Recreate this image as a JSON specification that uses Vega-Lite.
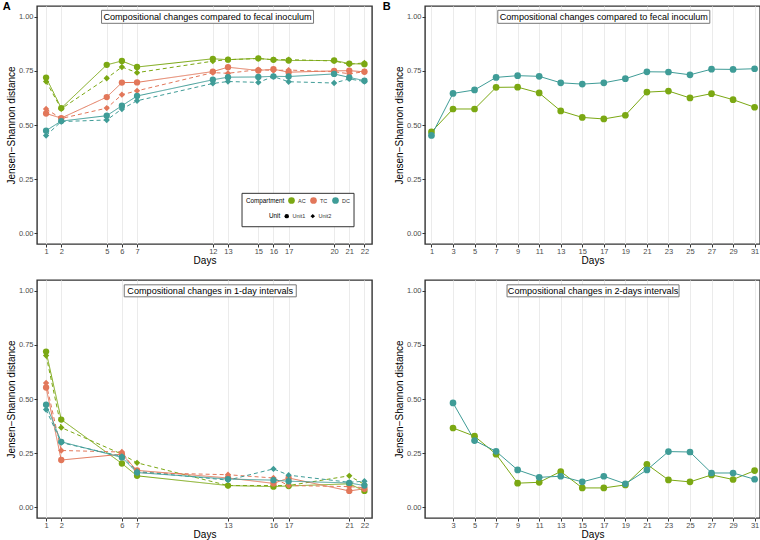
{
  "$schema": "https://vega.github.io/schema/vega-lite/v6.json",
  "background": "white",
  "padding": {"left": 2, "top": 0, "right": 2, "bottom": 1},
  "config": {
    "font": "Liberation Sans",
    "view": {"stroke": "#333333", "strokeWidth": 1.4},
    "axis": {"domain": false, "tickColor": "#333333", "tickSize": 3, "labelColor": "#4d4d4d", "labelFontSize": 7.5, "labelFont": "Liberation Sans", "titleFont": "Liberation Sans", "titleFontSize": 10, "titleFontWeight": "normal", "titleColor": "black", "gridColor": "#ebebeb", "gridWidth": 1, "labelPadding": 1},
    "axisY": {"grid": false, "titlePadding": 2},
    "axisX": {"grid": true, "titlePadding": 0, "labelPadding": 0.5, "labelFlush": false, "labelOverlap": false},
    "legend": {"padding": 0}
  },
  "datasets": {
    "fecalA": [
      {"Day": 1, "JSD": 0.719, "Compartment": "AC", "Unit": "Unit1"},
      {"Day": 2, "JSD": 0.578, "Compartment": "AC", "Unit": "Unit1"},
      {"Day": 5, "JSD": 0.778, "Compartment": "AC", "Unit": "Unit1"},
      {"Day": 6, "JSD": 0.796, "Compartment": "AC", "Unit": "Unit1"},
      {"Day": 7, "JSD": 0.768, "Compartment": "AC", "Unit": "Unit1"},
      {"Day": 12, "JSD": 0.806, "Compartment": "AC", "Unit": "Unit1"},
      {"Day": 13, "JSD": 0.802, "Compartment": "AC", "Unit": "Unit1"},
      {"Day": 15, "JSD": 0.808, "Compartment": "AC", "Unit": "Unit1"},
      {"Day": 16, "JSD": 0.801, "Compartment": "AC", "Unit": "Unit1"},
      {"Day": 17, "JSD": 0.798, "Compartment": "AC", "Unit": "Unit1"},
      {"Day": 20, "JSD": 0.798, "Compartment": "AC", "Unit": "Unit1"},
      {"Day": 21, "JSD": 0.784, "Compartment": "AC", "Unit": "Unit1"},
      {"Day": 22, "JSD": 0.781, "Compartment": "AC", "Unit": "Unit1"},
      {"Day": 1, "JSD": 0.701, "Compartment": "AC", "Unit": "Unit2"},
      {"Day": 2, "JSD": 0.575, "Compartment": "AC", "Unit": "Unit2"},
      {"Day": 5, "JSD": 0.716, "Compartment": "AC", "Unit": "Unit2"},
      {"Day": 6, "JSD": 0.768, "Compartment": "AC", "Unit": "Unit2"},
      {"Day": 7, "JSD": 0.742, "Compartment": "AC", "Unit": "Unit2"},
      {"Day": 12, "JSD": 0.795, "Compartment": "AC", "Unit": "Unit2"},
      {"Day": 13, "JSD": 0.802, "Compartment": "AC", "Unit": "Unit2"},
      {"Day": 15, "JSD": 0.807, "Compartment": "AC", "Unit": "Unit2"},
      {"Day": 16, "JSD": 0.802, "Compartment": "AC", "Unit": "Unit2"},
      {"Day": 17, "JSD": 0.802, "Compartment": "AC", "Unit": "Unit2"},
      {"Day": 20, "JSD": 0.796, "Compartment": "AC", "Unit": "Unit2"},
      {"Day": 21, "JSD": 0.781, "Compartment": "AC", "Unit": "Unit2"},
      {"Day": 22, "JSD": 0.787, "Compartment": "AC", "Unit": "Unit2"},
      {"Day": 1, "JSD": 0.553, "Compartment": "TC", "Unit": "Unit1"},
      {"Day": 2, "JSD": 0.532, "Compartment": "TC", "Unit": "Unit1"},
      {"Day": 5, "JSD": 0.629, "Compartment": "TC", "Unit": "Unit1"},
      {"Day": 6, "JSD": 0.696, "Compartment": "TC", "Unit": "Unit1"},
      {"Day": 7, "JSD": 0.697, "Compartment": "TC", "Unit": "Unit1"},
      {"Day": 12, "JSD": 0.747, "Compartment": "TC", "Unit": "Unit1"},
      {"Day": 13, "JSD": 0.767, "Compartment": "TC", "Unit": "Unit1"},
      {"Day": 15, "JSD": 0.752, "Compartment": "TC", "Unit": "Unit1"},
      {"Day": 16, "JSD": 0.758, "Compartment": "TC", "Unit": "Unit1"},
      {"Day": 17, "JSD": 0.744, "Compartment": "TC", "Unit": "Unit1"},
      {"Day": 20, "JSD": 0.750, "Compartment": "TC", "Unit": "Unit1"},
      {"Day": 21, "JSD": 0.751, "Compartment": "TC", "Unit": "Unit1"},
      {"Day": 22, "JSD": 0.746, "Compartment": "TC", "Unit": "Unit1"},
      {"Day": 1, "JSD": 0.574, "Compartment": "TC", "Unit": "Unit2"},
      {"Day": 2, "JSD": 0.530, "Compartment": "TC", "Unit": "Unit2"},
      {"Day": 5, "JSD": 0.578, "Compartment": "TC", "Unit": "Unit2"},
      {"Day": 6, "JSD": 0.640, "Compartment": "TC", "Unit": "Unit2"},
      {"Day": 7, "JSD": 0.658, "Compartment": "TC", "Unit": "Unit2"},
      {"Day": 12, "JSD": 0.742, "Compartment": "TC", "Unit": "Unit2"},
      {"Day": 13, "JSD": 0.739, "Compartment": "TC", "Unit": "Unit2"},
      {"Day": 15, "JSD": 0.756, "Compartment": "TC", "Unit": "Unit2"},
      {"Day": 16, "JSD": 0.752, "Compartment": "TC", "Unit": "Unit2"},
      {"Day": 17, "JSD": 0.754, "Compartment": "TC", "Unit": "Unit2"},
      {"Day": 20, "JSD": 0.746, "Compartment": "TC", "Unit": "Unit2"},
      {"Day": 21, "JSD": 0.737, "Compartment": "TC", "Unit": "Unit2"},
      {"Day": 22, "JSD": 0.746, "Compartment": "TC", "Unit": "Unit2"},
      {"Day": 1, "JSD": 0.474, "Compartment": "DC", "Unit": "Unit1"},
      {"Day": 2, "JSD": 0.518, "Compartment": "DC", "Unit": "Unit1"},
      {"Day": 5, "JSD": 0.543, "Compartment": "DC", "Unit": "Unit1"},
      {"Day": 6, "JSD": 0.589, "Compartment": "DC", "Unit": "Unit1"},
      {"Day": 7, "JSD": 0.634, "Compartment": "DC", "Unit": "Unit1"},
      {"Day": 12, "JSD": 0.709, "Compartment": "DC", "Unit": "Unit1"},
      {"Day": 13, "JSD": 0.721, "Compartment": "DC", "Unit": "Unit1"},
      {"Day": 15, "JSD": 0.722, "Compartment": "DC", "Unit": "Unit1"},
      {"Day": 16, "JSD": 0.725, "Compartment": "DC", "Unit": "Unit1"},
      {"Day": 17, "JSD": 0.724, "Compartment": "DC", "Unit": "Unit1"},
      {"Day": 20, "JSD": 0.736, "Compartment": "DC", "Unit": "Unit1"},
      {"Day": 21, "JSD": 0.720, "Compartment": "DC", "Unit": "Unit1"},
      {"Day": 22, "JSD": 0.705, "Compartment": "DC", "Unit": "Unit1"},
      {"Day": 1, "JSD": 0.451, "Compartment": "DC", "Unit": "Unit2"},
      {"Day": 2, "JSD": 0.516, "Compartment": "DC", "Unit": "Unit2"},
      {"Day": 5, "JSD": 0.523, "Compartment": "DC", "Unit": "Unit2"},
      {"Day": 6, "JSD": 0.574, "Compartment": "DC", "Unit": "Unit2"},
      {"Day": 7, "JSD": 0.612, "Compartment": "DC", "Unit": "Unit2"},
      {"Day": 12, "JSD": 0.692, "Compartment": "DC", "Unit": "Unit2"},
      {"Day": 13, "JSD": 0.701, "Compartment": "DC", "Unit": "Unit2"},
      {"Day": 15, "JSD": 0.697, "Compartment": "DC", "Unit": "Unit2"},
      {"Day": 16, "JSD": 0.724, "Compartment": "DC", "Unit": "Unit2"},
      {"Day": 17, "JSD": 0.700, "Compartment": "DC", "Unit": "Unit2"},
      {"Day": 20, "JSD": 0.694, "Compartment": "DC", "Unit": "Unit2"},
      {"Day": 21, "JSD": 0.713, "Compartment": "DC", "Unit": "Unit2"},
      {"Day": 22, "JSD": 0.701, "Compartment": "DC", "Unit": "Unit2"}
    ],
    "intervalA": [
      {"Day": 1, "JSD": 0.719, "Compartment": "AC", "Unit": "Unit1"},
      {"Day": 2, "JSD": 0.405, "Compartment": "AC", "Unit": "Unit1"},
      {"Day": 6, "JSD": 0.202, "Compartment": "AC", "Unit": "Unit1"},
      {"Day": 7, "JSD": 0.145, "Compartment": "AC", "Unit": "Unit1"},
      {"Day": 13, "JSD": 0.100, "Compartment": "AC", "Unit": "Unit1"},
      {"Day": 16, "JSD": 0.095, "Compartment": "AC", "Unit": "Unit1"},
      {"Day": 17, "JSD": 0.098, "Compartment": "AC", "Unit": "Unit1"},
      {"Day": 21, "JSD": 0.108, "Compartment": "AC", "Unit": "Unit1"},
      {"Day": 22, "JSD": 0.075, "Compartment": "AC", "Unit": "Unit1"},
      {"Day": 1, "JSD": 0.701, "Compartment": "AC", "Unit": "Unit2"},
      {"Day": 2, "JSD": 0.368, "Compartment": "AC", "Unit": "Unit2"},
      {"Day": 6, "JSD": 0.245, "Compartment": "AC", "Unit": "Unit2"},
      {"Day": 7, "JSD": 0.205, "Compartment": "AC", "Unit": "Unit2"},
      {"Day": 13, "JSD": 0.100, "Compartment": "AC", "Unit": "Unit2"},
      {"Day": 16, "JSD": 0.100, "Compartment": "AC", "Unit": "Unit2"},
      {"Day": 17, "JSD": 0.100, "Compartment": "AC", "Unit": "Unit2"},
      {"Day": 21, "JSD": 0.145, "Compartment": "AC", "Unit": "Unit2"},
      {"Day": 22, "JSD": 0.105, "Compartment": "AC", "Unit": "Unit2"},
      {"Day": 1, "JSD": 0.553, "Compartment": "TC", "Unit": "Unit1"},
      {"Day": 2, "JSD": 0.218, "Compartment": "TC", "Unit": "Unit1"},
      {"Day": 6, "JSD": 0.245, "Compartment": "TC", "Unit": "Unit1"},
      {"Day": 7, "JSD": 0.170, "Compartment": "TC", "Unit": "Unit1"},
      {"Day": 13, "JSD": 0.135, "Compartment": "TC", "Unit": "Unit1"},
      {"Day": 16, "JSD": 0.110, "Compartment": "TC", "Unit": "Unit1"},
      {"Day": 17, "JSD": 0.135, "Compartment": "TC", "Unit": "Unit1"},
      {"Day": 21, "JSD": 0.075, "Compartment": "TC", "Unit": "Unit1"},
      {"Day": 22, "JSD": 0.085, "Compartment": "TC", "Unit": "Unit1"},
      {"Day": 1, "JSD": 0.574, "Compartment": "TC", "Unit": "Unit2"},
      {"Day": 2, "JSD": 0.262, "Compartment": "TC", "Unit": "Unit2"},
      {"Day": 6, "JSD": 0.255, "Compartment": "TC", "Unit": "Unit2"},
      {"Day": 7, "JSD": 0.160, "Compartment": "TC", "Unit": "Unit2"},
      {"Day": 13, "JSD": 0.150, "Compartment": "TC", "Unit": "Unit2"},
      {"Day": 16, "JSD": 0.135, "Compartment": "TC", "Unit": "Unit2"},
      {"Day": 17, "JSD": 0.100, "Compartment": "TC", "Unit": "Unit2"},
      {"Day": 21, "JSD": 0.095, "Compartment": "TC", "Unit": "Unit2"},
      {"Day": 22, "JSD": 0.090, "Compartment": "TC", "Unit": "Unit2"},
      {"Day": 1, "JSD": 0.474, "Compartment": "DC", "Unit": "Unit1"},
      {"Day": 2, "JSD": 0.302, "Compartment": "DC", "Unit": "Unit1"},
      {"Day": 6, "JSD": 0.230, "Compartment": "DC", "Unit": "Unit1"},
      {"Day": 7, "JSD": 0.160, "Compartment": "DC", "Unit": "Unit1"},
      {"Day": 13, "JSD": 0.130, "Compartment": "DC", "Unit": "Unit1"},
      {"Day": 16, "JSD": 0.125, "Compartment": "DC", "Unit": "Unit1"},
      {"Day": 17, "JSD": 0.120, "Compartment": "DC", "Unit": "Unit1"},
      {"Day": 21, "JSD": 0.112, "Compartment": "DC", "Unit": "Unit1"},
      {"Day": 22, "JSD": 0.100, "Compartment": "DC", "Unit": "Unit1"},
      {"Day": 1, "JSD": 0.451, "Compartment": "DC", "Unit": "Unit2"},
      {"Day": 2, "JSD": 0.298, "Compartment": "DC", "Unit": "Unit2"},
      {"Day": 6, "JSD": 0.235, "Compartment": "DC", "Unit": "Unit2"},
      {"Day": 7, "JSD": 0.165, "Compartment": "DC", "Unit": "Unit2"},
      {"Day": 13, "JSD": 0.125, "Compartment": "DC", "Unit": "Unit2"},
      {"Day": 16, "JSD": 0.177, "Compartment": "DC", "Unit": "Unit2"},
      {"Day": 17, "JSD": 0.148, "Compartment": "DC", "Unit": "Unit2"},
      {"Day": 21, "JSD": 0.115, "Compartment": "DC", "Unit": "Unit2"},
      {"Day": 22, "JSD": 0.120, "Compartment": "DC", "Unit": "Unit2"}
    ],
    "fecalB": [
      {"Day": 1, "JSD": 0.468, "Compartment": "AC"},
      {"Day": 3, "JSD": 0.574, "Compartment": "AC"},
      {"Day": 5, "JSD": 0.574, "Compartment": "AC"},
      {"Day": 7, "JSD": 0.674, "Compartment": "AC"},
      {"Day": 9, "JSD": 0.675, "Compartment": "AC"},
      {"Day": 11, "JSD": 0.648, "Compartment": "AC"},
      {"Day": 13, "JSD": 0.565, "Compartment": "AC"},
      {"Day": 15, "JSD": 0.535, "Compartment": "AC"},
      {"Day": 17, "JSD": 0.528, "Compartment": "AC"},
      {"Day": 19, "JSD": 0.545, "Compartment": "AC"},
      {"Day": 21, "JSD": 0.652, "Compartment": "AC"},
      {"Day": 23, "JSD": 0.657, "Compartment": "AC"},
      {"Day": 25, "JSD": 0.625, "Compartment": "AC"},
      {"Day": 27, "JSD": 0.645, "Compartment": "AC"},
      {"Day": 29, "JSD": 0.617, "Compartment": "AC"},
      {"Day": 31, "JSD": 0.582, "Compartment": "AC"},
      {"Day": 1, "JSD": 0.452, "Compartment": "DC"},
      {"Day": 3, "JSD": 0.646, "Compartment": "DC"},
      {"Day": 5, "JSD": 0.662, "Compartment": "DC"},
      {"Day": 7, "JSD": 0.720, "Compartment": "DC"},
      {"Day": 9, "JSD": 0.728, "Compartment": "DC"},
      {"Day": 11, "JSD": 0.725, "Compartment": "DC"},
      {"Day": 13, "JSD": 0.695, "Compartment": "DC"},
      {"Day": 15, "JSD": 0.689, "Compartment": "DC"},
      {"Day": 17, "JSD": 0.695, "Compartment": "DC"},
      {"Day": 19, "JSD": 0.714, "Compartment": "DC"},
      {"Day": 21, "JSD": 0.746, "Compartment": "DC"},
      {"Day": 23, "JSD": 0.745, "Compartment": "DC"},
      {"Day": 25, "JSD": 0.732, "Compartment": "DC"},
      {"Day": 27, "JSD": 0.758, "Compartment": "DC"},
      {"Day": 29, "JSD": 0.757, "Compartment": "DC"},
      {"Day": 31, "JSD": 0.760, "Compartment": "DC"}
    ],
    "intervalB": [
      {"Day": 3, "JSD": 0.366, "Compartment": "AC"},
      {"Day": 5, "JSD": 0.328, "Compartment": "AC"},
      {"Day": 7, "JSD": 0.245, "Compartment": "AC"},
      {"Day": 9, "JSD": 0.111, "Compartment": "AC"},
      {"Day": 11, "JSD": 0.115, "Compartment": "AC"},
      {"Day": 13, "JSD": 0.165, "Compartment": "AC"},
      {"Day": 15, "JSD": 0.089, "Compartment": "AC"},
      {"Day": 17, "JSD": 0.089, "Compartment": "AC"},
      {"Day": 19, "JSD": 0.103, "Compartment": "AC"},
      {"Day": 21, "JSD": 0.198, "Compartment": "AC"},
      {"Day": 23, "JSD": 0.126, "Compartment": "AC"},
      {"Day": 25, "JSD": 0.117, "Compartment": "AC"},
      {"Day": 27, "JSD": 0.149, "Compartment": "AC"},
      {"Day": 29, "JSD": 0.128, "Compartment": "AC"},
      {"Day": 31, "JSD": 0.169, "Compartment": "AC"},
      {"Day": 3, "JSD": 0.482, "Compartment": "DC"},
      {"Day": 5, "JSD": 0.308, "Compartment": "DC"},
      {"Day": 7, "JSD": 0.258, "Compartment": "DC"},
      {"Day": 9, "JSD": 0.172, "Compartment": "DC"},
      {"Day": 11, "JSD": 0.138, "Compartment": "DC"},
      {"Day": 13, "JSD": 0.143, "Compartment": "DC"},
      {"Day": 15, "JSD": 0.117, "Compartment": "DC"},
      {"Day": 17, "JSD": 0.143, "Compartment": "DC"},
      {"Day": 19, "JSD": 0.108, "Compartment": "DC"},
      {"Day": 21, "JSD": 0.172, "Compartment": "DC"},
      {"Day": 23, "JSD": 0.257, "Compartment": "DC"},
      {"Day": 25, "JSD": 0.255, "Compartment": "DC"},
      {"Day": 27, "JSD": 0.158, "Compartment": "DC"},
      {"Day": 29, "JSD": 0.158, "Compartment": "DC"},
      {"Day": 31, "JSD": 0.129, "Compartment": "DC"}
    ]
  },
  "columns": 2,
  "spacing": {"row": 36, "column": 53},
  "bounds": "flush",
  "resolve": {"scale": {"x": "independent", "y": "independent"}, "legend": {"color": "independent", "shape": "independent"}},
  "concat": [
    {
      "width": 335, "height": 238,
      "encoding": {
        "x": {"field": "Day", "type": "quantitative", "scale": {"domain": [0.4, 22.5], "nice": false, "zero": false}, "axis": {"values": [1, 2, 5, 6, 7, 12, 13, 15, 16, 17, 20, 21, 22], "format": "d", "title": "Days"}},
        "y": {"field": "JSD", "type": "quantitative", "scale": {"domain": [-0.05, 1.05], "nice": false, "zero": false}, "axis": {"values": [0, 0.25, 0.5, 0.75, 1], "format": ".2f", "title": "Jensen−Shannon distance"}}
      },
      "layer": [
        {
          "data": {"values": [{"Day": -1.6, "JSD": 1.0445, "label": "A"}]},
          "mark": {"type": "text", "fontSize": 11, "fontWeight": "bold", "color": "black", "baseline": "middle", "align": "center"},
          "encoding": {"text": {"field": "label"}}
        },
        {
          "data": {"name": "fecalA"},
          "mark": {"type": "line", "strokeWidth": 1},
          "encoding": {
            "color": {"field": "Compartment", "type": "nominal", "scale": {"domain": ["AC", "TC", "DC"], "range": ["#7BA813", "#E2775A", "#3F9C97"]},
              "legend": {"title": "Compartment", "orient": "none", "direction": "horizontal", "titleOrient": "left", "legendX": 209, "legendY": 191, "symbolType": "circle", "symbolSize": 45, "symbolStrokeWidth": 0, "labelFontSize": 5.5, "titleFontSize": 6.3, "titleFontWeight": "normal", "titleColor": "black", "labelColor": "#333333", "titlePadding": 3, "labelOffset": 3, "columnPadding": 4, "padding": 0}},
            "strokeDash": {"field": "Unit", "type": "nominal", "scale": {"domain": ["Unit1", "Unit2"], "range": [[1, 0], [4, 3]]}, "legend": null}
          }
        },
        {
          "data": {"name": "fecalA"},
          "mark": {"type": "point", "filled": true, "size": 40, "opacity": 1},
          "encoding": {
            "color": {"field": "Compartment", "type": "nominal", "scale": {"domain": ["AC", "TC", "DC"], "range": ["#7BA813", "#E2775A", "#3F9C97"]},
              "legend": {"title": "Compartment", "orient": "none", "direction": "horizontal", "titleOrient": "left", "legendX": 209, "legendY": 191, "symbolType": "circle", "symbolSize": 45, "symbolStrokeWidth": 0, "labelFontSize": 5.5, "titleFontSize": 6.3, "titleFontWeight": "normal", "titleColor": "black", "labelColor": "#333333", "titlePadding": 3, "labelOffset": 3, "columnPadding": 4, "padding": 0}},
            "shape": {"field": "Unit", "type": "nominal", "scale": {"domain": ["Unit1", "Unit2"], "range": ["circle", "diamond"]},
              "legend": {"title": "Unit", "orient": "none", "direction": "horizontal", "titleOrient": "left", "legendX": 232, "legendY": 207, "symbolSize": 20, "symbolFillColor": "black", "symbolStrokeColor": "black", "symbolStrokeWidth": 0, "labelFontSize": 5.5, "titleFontSize": 6.3, "titleFontWeight": "normal", "titleColor": "black", "labelColor": "#333333", "titlePadding": 3, "labelOffset": 3, "columnPadding": 4, "padding": 0}}
          }
        },
        {
          "data": {"values": [{"Day": 17.62, "JSD": 0.107}]},
          "mark": {"type": "point", "shape": "M-1,-0.298H1V0.298H-1Z", "size": 12544, "filled": true, "color": "white", "stroke": "#333333", "strokeWidth": 1, "opacity": 1}
        },
        {
          "data": {"values": [{"Day": 11.65, "JSD": 1.0}]},
          "mark": {"type": "point", "shape": "M-1,-0.0613H1V0.0613H-1Z", "size": 44944, "filled": true, "color": "white", "stroke": "#777777", "strokeWidth": 1, "opacity": 1}
        },
        {
          "data": {"values": [{"Day": 11.65, "JSD": 1.0, "label": "Compositional changes compared to fecal inoculum"}]},
          "mark": {"type": "text", "fontSize": 9.1, "color": "black", "baseline": "middle"},
          "encoding": {"text": {"field": "label"}}
        }
      ]
    },
    {
      "width": 335, "height": 238,
      "encoding": {
        "x": {"field": "Day", "type": "quantitative", "scale": {"domain": [0.4, 31.5], "nice": false, "zero": false}, "axis": {"values": [1, 3, 5, 7, 9, 11, 13, 15, 17, 19, 21, 23, 25, 27, 29, 31], "format": "d", "title": "Days"}},
        "y": {"field": "JSD", "type": "quantitative", "scale": {"domain": [-0.05, 1.05], "nice": false, "zero": false}, "axis": {"values": [0, 0.25, 0.5, 0.75, 1], "format": ".2f", "title": "Jensen−Shannon distance"}}
      },
      "layer": [
        {
          "data": {"values": [{"Day": -3.15, "JSD": 1.0445, "label": "B"}]},
          "mark": {"type": "text", "fontSize": 11, "fontWeight": "bold", "color": "black", "baseline": "middle", "align": "center"},
          "encoding": {"text": {"field": "label"}}
        },
        {
          "data": {"name": "fecalB"},
          "mark": {"type": "line", "strokeWidth": 1},
          "encoding": {"color": {"field": "Compartment", "type": "nominal", "scale": {"domain": ["AC", "TC", "DC"], "range": ["#7BA813", "#E2775A", "#3F9C97"]}, "legend": null}}
        },
        {
          "data": {"name": "fecalB"},
          "mark": {"type": "point", "filled": true, "size": 45, "shape": "circle", "opacity": 1},
          "encoding": {"color": {"field": "Compartment", "type": "nominal", "scale": {"domain": ["AC", "TC", "DC"], "range": ["#7BA813", "#E2775A", "#3F9C97"]}, "legend": null}}
        },
        {
          "data": {"values": [{"Day": 17.0, "JSD": 1.0}]},
          "mark": {"type": "point", "shape": "M-1,-0.0613H1V0.0613H-1Z", "size": 44944, "filled": true, "color": "white", "stroke": "#777777", "strokeWidth": 1, "opacity": 1}
        },
        {
          "data": {"values": [{"Day": 17.0, "JSD": 1.0, "label": "Compositional changes compared to fecal inoculum"}]},
          "mark": {"type": "text", "fontSize": 9.1, "color": "black", "baseline": "middle"},
          "encoding": {"text": {"field": "label"}}
        }
      ]
    },
    {
      "width": 335, "height": 238,
      "encoding": {
        "x": {"field": "Day", "type": "quantitative", "scale": {"domain": [0.4, 22.5], "nice": false, "zero": false}, "axis": {"values": [1, 2, 6, 7, 13, 16, 17, 21, 22], "format": "d", "title": "Days"}},
        "y": {"field": "JSD", "type": "quantitative", "scale": {"domain": [-0.05, 1.05], "nice": false, "zero": false}, "axis": {"values": [0, 0.25, 0.5, 0.75, 1], "format": ".2f", "title": "Jensen−Shannon distance"}}
      },
      "layer": [
        {
          "data": {"name": "intervalA"},
          "mark": {"type": "line", "strokeWidth": 1},
          "encoding": {
            "color": {"field": "Compartment", "type": "nominal", "scale": {"domain": ["AC", "TC", "DC"], "range": ["#7BA813", "#E2775A", "#3F9C97"]}, "legend": null},
            "strokeDash": {"field": "Unit", "type": "nominal", "scale": {"domain": ["Unit1", "Unit2"], "range": [[1, 0], [4, 3]]}, "legend": null}
          }
        },
        {
          "data": {"name": "intervalA"},
          "mark": {"type": "point", "filled": true, "size": 40, "opacity": 1},
          "encoding": {
            "color": {"field": "Compartment", "type": "nominal", "scale": {"domain": ["AC", "TC", "DC"], "range": ["#7BA813", "#E2775A", "#3F9C97"]}, "legend": null},
            "shape": {"field": "Unit", "type": "nominal", "scale": {"domain": ["Unit1", "Unit2"], "range": ["circle", "diamond"]}, "legend": null}
          }
        },
        {
          "data": {"values": [{"Day": 11.83, "JSD": 1.0}]},
          "mark": {"type": "point", "shape": "M-1,-0.0698H1V0.0698H-1Z", "size": 29584, "filled": true, "color": "white", "stroke": "#777777", "strokeWidth": 1, "opacity": 1}
        },
        {
          "data": {"values": [{"Day": 11.83, "JSD": 1.0, "label": "Compositional changes in 1-day intervals"}]},
          "mark": {"type": "text", "fontSize": 9.1, "color": "black", "baseline": "middle"},
          "encoding": {"text": {"field": "label"}}
        }
      ]
    },
    {
      "width": 335, "height": 238,
      "encoding": {
        "x": {"field": "Day", "type": "quantitative", "scale": {"domain": [0.4, 31.5], "nice": false, "zero": false}, "axis": {"values": [3, 5, 7, 9, 11, 13, 15, 17, 19, 21, 23, 25, 27, 29, 31], "format": "d", "title": "Days"}},
        "y": {"field": "JSD", "type": "quantitative", "scale": {"domain": [-0.05, 1.05], "nice": false, "zero": false}, "axis": {"values": [0, 0.25, 0.5, 0.75, 1], "format": ".2f", "title": "Jensen−Shannon distance"}}
      },
      "layer": [
        {
          "data": {"name": "intervalB"},
          "mark": {"type": "line", "strokeWidth": 1},
          "encoding": {"color": {"field": "Compartment", "type": "nominal", "scale": {"domain": ["AC", "TC", "DC"], "range": ["#7BA813", "#E2775A", "#3F9C97"]}, "legend": null}}
        },
        {
          "data": {"name": "intervalB"},
          "mark": {"type": "point", "filled": true, "size": 45, "shape": "circle", "opacity": 1},
          "encoding": {"color": {"field": "Compartment", "type": "nominal", "scale": {"domain": ["AC", "TC", "DC"], "range": ["#7BA813", "#E2775A", "#3F9C97"]}, "legend": null}}
        },
        {
          "data": {"values": [{"Day": 16.0, "JSD": 1.0}]},
          "mark": {"type": "point", "shape": "M-1,-0.0698H1V0.0698H-1Z", "size": 29584, "filled": true, "color": "white", "stroke": "#777777", "strokeWidth": 1, "opacity": 1}
        },
        {
          "data": {"values": [{"Day": 16.0, "JSD": 1.0, "label": "Compositional changes in 2-days intervals"}]},
          "mark": {"type": "text", "fontSize": 9.1, "color": "black", "baseline": "middle"},
          "encoding": {"text": {"field": "label"}}
        }
      ]
    }
  ]
}
